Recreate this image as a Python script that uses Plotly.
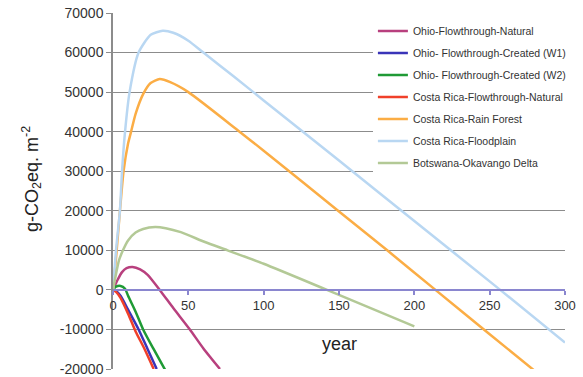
import plotly.graph_objects as go

# ---- data ----
names = [
    "Ohio-Flowthrough-Natural",
    "Ohio- Flowthrough-Created (W1)",
    "Ohio- Flowthrough-Created (W2)",
    "Costa Rica-Flowthrough-Natural",
    "Costa Rica-Rain Forest",
    "Costa Rica-Floodplain",
    "Botswana-Okavango Delta",
]
colors = ["#b8407e", "#3a34b8", "#1f9a35", "#f0402a", "#fbad45", "#b9d7f2", "#b3c996"]

ohio_nat_x = [0, 3, 6, 9, 13, 18, 23, 31, 40, 51, 60, 71]
ohio_nat_y = [0, 2500, 4500, 5500, 5800, 5200, 3800, 0, -4600, -10000, -14800, -20000]

ohio_w1_x = [0, 2, 5, 10, 17, 23, 29]
ohio_w1_y = [0, -300, -1500, -5000, -10000, -15000, -20000]

ohio_w2_x = [0, 2, 5, 8, 10, 15, 20, 27, 35]
ohio_w2_y = [0, 800, 1000, 300, -1500, -5500, -10000, -15000, -20500]

cr_nat_x = [0, 2, 5, 10, 15, 21, 27]
cr_nat_y = [0, -500, -2000, -6000, -10500, -15000, -20000]

cr_rain_x = [0, 2, 4.6, 7, 10, 12, 15, 20, 25, 31, 38, 50, 84, 100, 150, 182, 214, 250, 280]
cr_rain_y = [0, 8000, 20000, 30000, 37000, 40000, 44500, 49500, 52300, 53300, 52500, 50000,
             40000, 35200, 19800, 10000, 0, -11200, -20500]

cr_flood_x = [0, 2, 4.6, 6, 8, 11, 17, 25, 33, 40, 50, 60, 80, 100, 150, 200, 257, 300]
cr_flood_y = [0, 10000, 20000, 30000, 40000, 50000, 60000, 64500, 65500, 65000, 63000, 60000,
              54000, 47900, 32700, 17400, 0, -13300]

bots_x = [0, 2, 4, 6.6, 10, 15, 20, 28, 35, 45, 61, 76, 100, 142, 200]
bots_y = [0, 4000, 7500, 10000, 12500, 14500, 15400, 15900, 15600, 14600, 12100, 10000,
          6600, 0, -9200]

series_x = [ohio_nat_x, ohio_w1_x, ohio_w2_x, cr_nat_x, cr_rain_x, cr_flood_x, bots_x]
series_y = [ohio_nat_y, ohio_w1_y, ohio_w2_y, cr_nat_y, cr_rain_y, cr_flood_y, bots_y]

x_ticks = [0, 50, 100, 150, 200, 250, 300]
x_tick_labels = ["0", "50", "100", "150", "200", "250", "300"]
y_ticks = [-20000, -10000, 0, 10000, 20000, 30000, 40000, 50000, 60000, 70000]
y_tick_labels = ["-20000", "-10000", "0", "10000", "20000", "30000", "40000", "50000",
                 "60000", "70000"]

x_range = [0, 300]
y_range = [-20000, 70000]

fig = go.Figure()
for i, (n, c, xs, ys) in enumerate(zip(names, colors, series_x, series_y)):
    fig.add_trace(go.Scatter(
        x=xs, y=ys, mode="lines", name=n,
        line=dict(color=c, width=2.5, shape="spline", smoothing=0.6),
        legendgroup=f"g{i}",
    ))

font_family = "Liberation Sans, Arial, Helvetica, sans-serif"
zero_pos = (0 - y_range[0]) / (y_range[1] - y_range[0])

L, R, T, B, W, H = 113, 18, 13, 8, 583, 377
pw, ph = W - L - R, H - T - B

fig.update_layout(
    width=W, height=H,
    margin=dict(l=L, r=R, t=T, b=B, autoexpand=False),
    paper_bgcolor="white", plot_bgcolor="white",
    font=dict(family=font_family, color="#333333"),
    showlegend=True,
    legend=dict(
        x=0.575, y=0.99, xanchor="left", yanchor="top",
        bgcolor="white", borderwidth=0,
        font=dict(size=10.5, color="#333333", family=font_family),
        traceorder="grouped", tracegroupgap=3,
    ),
    xaxis=dict(
        range=x_range, tickmode="array", tickvals=x_ticks, ticktext=x_tick_labels,
        anchor="free", position=zero_pos,
        showline=True, linecolor="#8a86cf", linewidth=2,
        ticks="outside", ticklen=4, tickcolor="#8a86cf", tickwidth=1.5,
        showgrid=False, zeroline=False, automargin=False,
        tickfont=dict(size=13, color="#333333"),
    ),
    yaxis=dict(
        range=y_range, tickmode="array", tickvals=y_ticks, ticktext=y_tick_labels,
        showline=True, linecolor="#8c8c8c", linewidth=1.5,
        ticks="outside", ticklen=5, tickcolor="#8c8c8c",
        showgrid=True, gridcolor="#8c8c8c", gridwidth=1.3,
        zeroline=False, automargin=False,
        tickfont=dict(size=14, color="#333333"),
    ),
    annotations=[
        dict(text="year", x=(339 - L) / pw, y=(H - B - 344) / ph,
             xref="paper", yref="paper", xanchor="center", yanchor="middle",
             showarrow=False, font=dict(size=18, color="#222222")),
        dict(text="g-CO<sub>2</sub>eq. m<sup>-2</sup>", x=(31 - L) / pw, y=(H - B - 179) / ph,
             xref="paper", yref="paper", xanchor="center", yanchor="middle",
             textangle=-90, showarrow=False, font=dict(size=18, color="#222222")),
    ],
)

fig.write_html(
    "out.html",
    config={"displayModeBar": False},
    post_script="document.body.style.margin='0';document.body.style.padding='0';",
)
